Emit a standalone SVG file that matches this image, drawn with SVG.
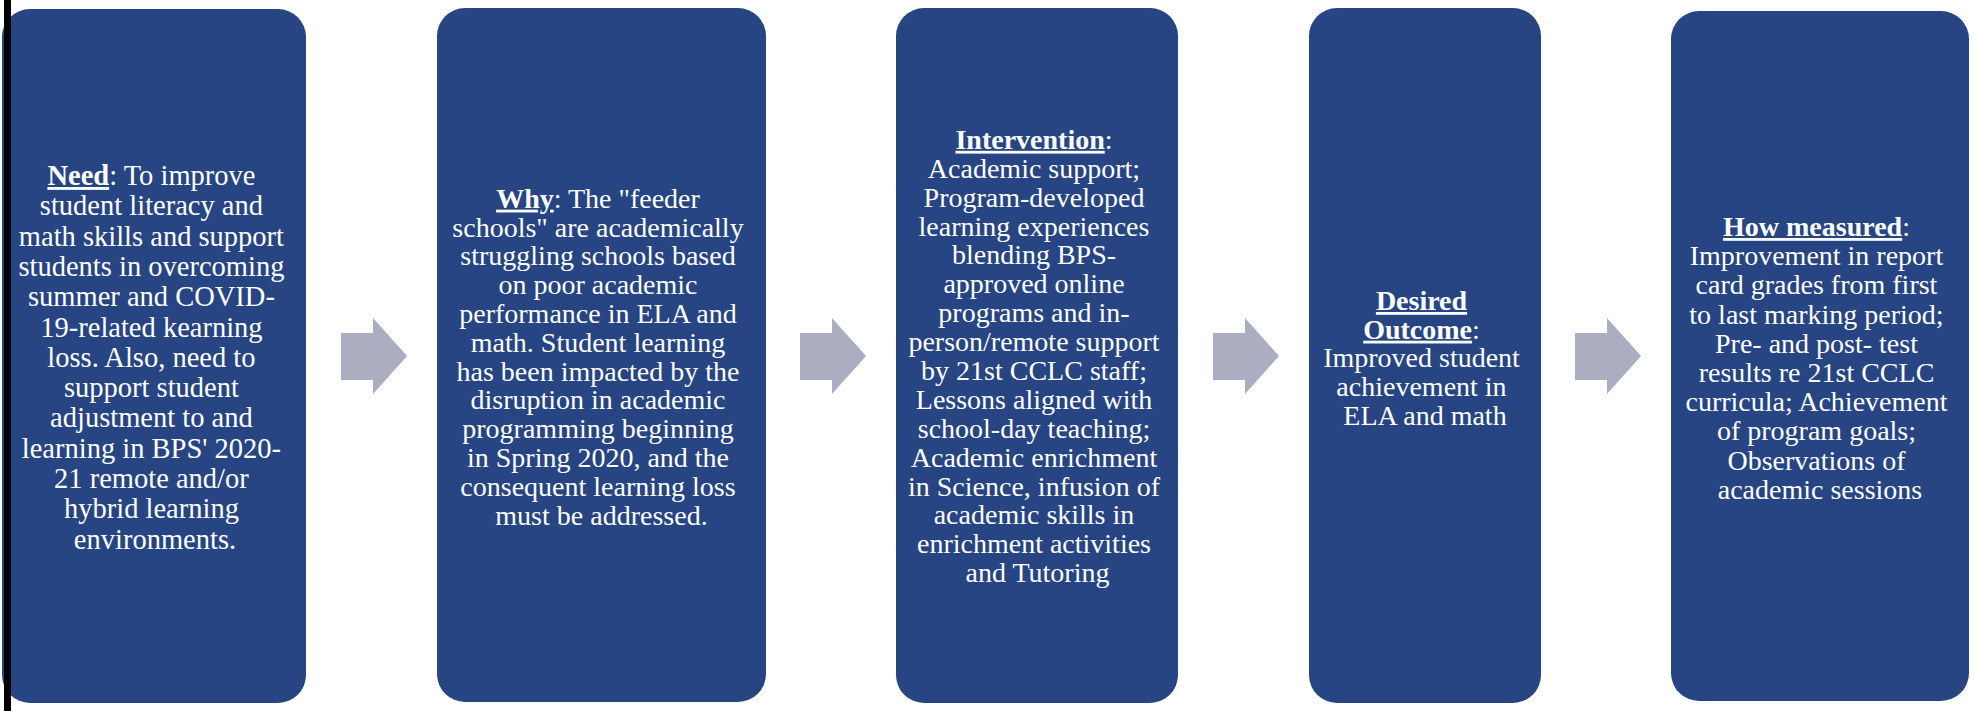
<svg xmlns="http://www.w3.org/2000/svg" width="1975" height="711" viewBox="0 0 1975 711">
<style>
.box{fill:#264582}
.arrow{fill:#ABAEC1}
.t{font-family:"Liberation Serif","Times New Roman",serif;font-size:28px;fill:#ffffff;text-anchor:middle}
.b{font-weight:bold;text-decoration:underline}
</style>
<rect x="0" y="0" width="1975" height="711" fill="#ffffff"/>
<g id="connectors">
<polygon class="arrow" points="341,333 373,333 373,318 407,356 373,394 373,380 341,380"/>
<polygon class="arrow" points="800,333 832,333 832,318 866,356 832,394 832,380 800,380"/>
<polygon class="arrow" points="1213,333 1245,333 1245,318 1279,356 1245,394 1245,380 1213,380"/>
<polygon class="arrow" points="1575,333 1607,333 1607,318 1641,356 1607,394 1607,380 1575,380"/>
</g>
<g id="node-need">
<rect class="box" x="2" y="9" width="304" height="694" rx="28"/>
<text class="t" style="font-size:28.5px">
<tspan x="155" y="185"><tspan class="b">Need</tspan>: To improve</tspan>
<tspan x="155" dy="30.3">student literacy and</tspan>
<tspan x="155" dy="30.3">math skills and support</tspan>
<tspan x="155" dy="30.3">students in overcoming</tspan>
<tspan x="155" dy="30.3">summer and COVID-</tspan>
<tspan x="155" dy="30.3">19-related kearning</tspan>
<tspan x="155" dy="30.3">loss. Also, need to</tspan>
<tspan x="155" dy="30.3">support student</tspan>
<tspan x="155" dy="30.3">adjustment to and</tspan>
<tspan x="155" dy="30.3">learning in BPS' 2020-</tspan>
<tspan x="155" dy="30.3">21 remote and/or</tspan>
<tspan x="155" dy="30.3">hybrid learning</tspan>
<tspan x="155" dy="30.3">environments.</tspan>
</text>
</g>
<g id="node-why">
<rect class="box" x="437" y="8" width="329" height="694" rx="28"/>
<text class="t">
<tspan x="601.5" y="207.7"><tspan class="b">Why</tspan>: The "feeder</tspan>
<tspan x="601.5" dy="28.8">schools" are academically</tspan>
<tspan x="601.5" dy="28.8">struggling schools based</tspan>
<tspan x="601.5" dy="28.8">on poor academic</tspan>
<tspan x="601.5" dy="28.8">performance in ELA and</tspan>
<tspan x="601.5" dy="28.8">math. Student learning</tspan>
<tspan x="601.5" dy="28.8">has been impacted by the</tspan>
<tspan x="601.5" dy="28.8">disruption in academic</tspan>
<tspan x="601.5" dy="28.8">programming beginning</tspan>
<tspan x="601.5" dy="28.8">in Spring 2020, and the</tspan>
<tspan x="601.5" dy="28.8">consequent learning loss</tspan>
<tspan x="601.5" dy="28.8">must be addressed.</tspan>
</text>
</g>
<g id="node-intervention">
<rect class="box" x="896" y="8" width="282" height="695" rx="28"/>
<text class="t">
<tspan x="1037.5" y="148.8"><tspan class="b">Intervention</tspan>:</tspan>
<tspan x="1037.5" dy="28.9">Academic support;</tspan>
<tspan x="1037.5" dy="28.9">Program-developed</tspan>
<tspan x="1037.5" dy="28.9">learning experiences</tspan>
<tspan x="1037.5" dy="28.9">blending BPS-</tspan>
<tspan x="1037.5" dy="28.9">approved online</tspan>
<tspan x="1037.5" dy="28.9">programs and in-</tspan>
<tspan x="1037.5" dy="28.9">person/remote support</tspan>
<tspan x="1037.5" dy="28.9">by 21st CCLC staff;</tspan>
<tspan x="1037.5" dy="28.9">Lessons aligned with</tspan>
<tspan x="1037.5" dy="28.9">school-day teaching;</tspan>
<tspan x="1037.5" dy="28.9">Academic enrichment</tspan>
<tspan x="1037.5" dy="28.9">in Science, infusion of</tspan>
<tspan x="1037.5" dy="28.9">academic skills in</tspan>
<tspan x="1037.5" dy="28.9">enrichment activities</tspan>
<tspan x="1037.5" dy="28.9">and Tutoring</tspan>
</text>
</g>
<g id="node-outcome">
<rect class="box" x="1309" y="8" width="232" height="695" rx="28"/>
<text class="t">
<tspan x="1425" y="310" class="b">Desired</tspan>
<tspan x="1425" dy="28.7"><tspan class="b">Outcome</tspan>:</tspan>
<tspan x="1425" dy="28.7">Improved student</tspan>
<tspan x="1425" dy="28.7">achievement in</tspan>
<tspan x="1425" dy="28.7">ELA and math</tspan>
</text>
</g>
<g id="node-measured">
<rect class="box" x="1671" y="11" width="298" height="690" rx="28"/>
<text class="t">
<tspan x="1820" y="236"><tspan class="b">How measured</tspan>:</tspan>
<tspan x="1820" dy="29.2">Improvement in report</tspan>
<tspan x="1820" dy="29.2">card grades from first</tspan>
<tspan x="1820" dy="29.2">to last marking period;</tspan>
<tspan x="1820" dy="29.2">Pre- and post- test</tspan>
<tspan x="1820" dy="29.2">results re 21st CCLC</tspan>
<tspan x="1820" dy="29.2">curricula; Achievement</tspan>
<tspan x="1820" dy="29.2">of program goals;</tspan>
<tspan x="1820" dy="29.2">Observations of</tspan>
<tspan x="1820" dy="29.2">academic sessions</tspan>
</text>
</g>
<rect x="4" y="0" width="7" height="711" fill="#000000"/>
</svg>
